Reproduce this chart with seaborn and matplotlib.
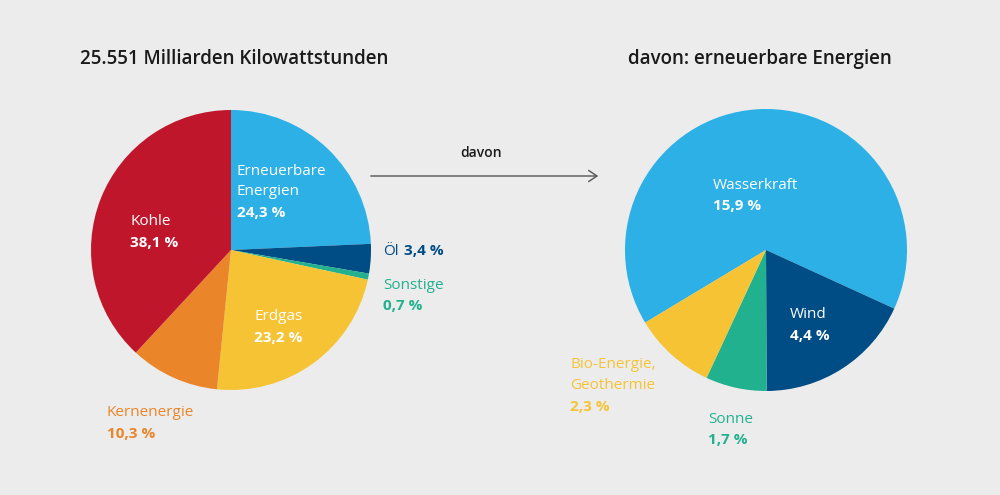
import matplotlib
matplotlib.use("Agg")
import matplotlib.pyplot as plt
import seaborn as sns

sns.set_theme(style="white", rc={"font.family": "Open Sans"})

left_labels = ["Erneuerbare Energien", "Öl", "Sonstige", "Erdgas", "Kernenergie", "Kohle"]
left_values = [24.3, 3.4, 0.7, 23.2, 10.3, 38.1]
left_colors = ["#2cb0e6", "#004c85", "#22b18f", "#f6c334", "#ea852a", "#c0162c"]

right_labels = ["Wasserkraft", "Wind", "Sonne", "Bio-Energie, Geothermie"]
right_values = [15.9, 4.4, 1.7, 2.3]
right_colors = ["#2cb0e6", "#004c85", "#22b18f", "#f6c334"]

W, H = 1000, 495
bg = "#ececec"
fig = plt.figure(figsize=(10, 4.95), dpi=100, facecolor=bg)

def add_pie_ax(cx, cy, r):
    ax = fig.add_axes([(cx - r) / W, 1 - (cy + r) / H, 2 * r / W, 2 * r / H])
    ax.set_facecolor(bg)
    ax.axis("off")
    return ax

ax1 = add_pie_ax(231, 250, 140)
ax1.pie(left_values, colors=left_colors, startangle=90, counterclock=False,
        radius=1, wedgeprops=dict(linewidth=0))
ax1.set_xlim(-1, 1); ax1.set_ylim(-1, 1)

ax2 = add_pie_ax(766, 250, 141)
ax2.pie(right_values, colors=right_colors, startangle=-149, counterclock=False,
        radius=1, wedgeprops=dict(linewidth=0))
ax2.set_xlim(-1, 1); ax2.set_ylim(-1, 1)

def t(x, y, s, color="#1a1a1a", size=11, weight="normal", ha="left", va="baseline"):
    fig.text(x / W, 1 - y / H, s, color=color, fontsize=size, fontweight=weight, ha=ha, va=va)

t(80, 64, "25.551 Milliarden Kilowattstunden", size=13.5, weight="semibold")
t(628, 64, "davon: erneuerbare Energien", size=13.5, weight="semibold")

white = "white"
t(237, 175, "Erneuerbare", white, 11)
t(237, 195, "Energien", white, 11)
t(237, 217, "24,3 %", white, 11, "bold")
t(130, 225, "Kohle", white, 11)
t(130, 247, "38,1 %", white, 11, "bold")
t(254, 320, "Erdgas", white, 11)
t(254, 342, "23,2 %", white, 11, "bold")
t(383, 255, "Öl", "#004c85", 11)
t(404, 255, "3,4 %", "#004c85", 11, "bold")
t(383, 289, "Sonstige", "#22b18f", 11)
t(383, 310, "0,7 %", "#22b18f", 11, "bold")
t(107, 416, "Kernenergie", "#ea852a", 11)
t(107, 438, "10,3 %", "#ea852a", 11, "bold")

t(713, 189, "Wasserkraft", white, 11)
t(713, 210, "15,9 %", white, 11, "bold")
t(790, 318, "Wind", white, 11)
t(790, 340, "4,4 %", white, 11, "bold")
t(570, 368, "Bio-Energie,", "#f6c334", 11)
t(570, 389, "Geothermie", "#f6c334", 11)
t(570, 411, "2,3 %", "#f6c334", 11, "bold")
t(708, 423, "Sonne", "#22b18f", 11)
t(708, 444, "1,7 %", "#22b18f", 11, "bold")

t(481, 157, "davon", "#1a1a1a", 10, "semibold", ha="center")
fig.patches.append(matplotlib.patches.FancyArrowPatch(
    (368 / W, 1 - 176 / H), (601 / W, 1 - 176 / H), transform=fig.transFigure,
    arrowstyle="->,head_length=6,head_width=4", color="#555555", linewidth=1))

fig.savefig("out.png", dpi=100, facecolor=bg)
